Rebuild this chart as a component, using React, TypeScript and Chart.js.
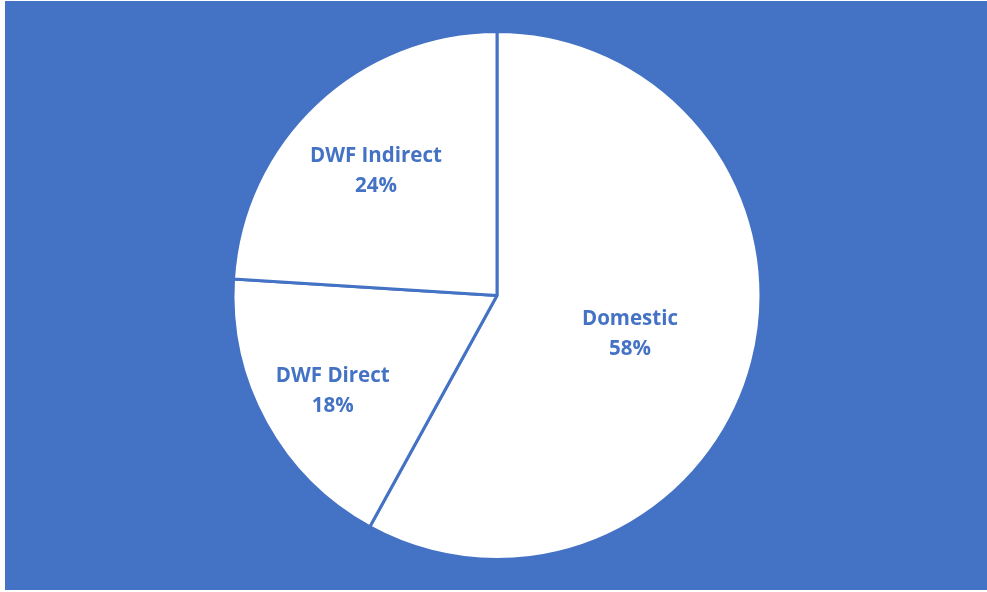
import React, { useEffect, useRef } from "react";
import { Chart, registerables } from "chart.js";

Chart.register(...registerables);

const categories = ["Domestic", "DWF Direct", "DWF Indirect"];
const values = [58, 18, 24];
const labelRadiusFractions = [0.52, 0.71, 0.67];

const BLUE = "#4472C4";

const labelPlugin = {
  id: "pieLabels",
  afterDatasetsDraw(chart: any) {
    const ctx = chart.ctx;
    const meta = chart.getDatasetMeta(0);
    const data = chart.data.datasets[0].data as number[];
    const total = data.reduce((a, b) => a + b, 0);
    ctx.save();
    ctx.fillStyle = BLUE;
    ctx.font = "bold 20.5px 'Open Sans', Lato, sans-serif";
    ctx.textAlign = "center";
    ctx.textBaseline = "middle";
    meta.data.forEach((arc: any, i: number) => {
      const { x, y, startAngle, endAngle, outerRadius } = arc.getProps(
        ["x", "y", "startAngle", "endAngle", "outerRadius"],
        true
      );
      const mid = (startAngle + endAngle) / 2;
      const r = outerRadius * labelRadiusFractions[i];
      const lx = x + Math.cos(mid) * r;
      const ly = y + Math.sin(mid) * r + 5;
      const pct = Math.round((data[i] / total) * 100) + "%";
      ctx.fillText(chart.data.labels[i], lx, ly - 15);
      ctx.fillText(pct, lx, ly + 15);
    });
    ctx.restore();
  },
};

export default function App() {
  const ref = useRef<HTMLCanvasElement>(null);
  useEffect(() => {
    document.body.style.margin = "0";
    const chart = new Chart(ref.current!, {
      type: "pie",
      data: {
        labels: categories,
        datasets: [
          {
            data: values,
            backgroundColor: "#FFFFFF",
            borderColor: BLUE,
            borderWidth: 3,
          },
        ],
      },
      options: {
        animation: false,
        responsive: true,
        maintainAspectRatio: false,
        layout: { padding: { top: 29, bottom: 29, left: 2, right: 0 } },
        plugins: {
          legend: { display: false },
          tooltip: { enabled: false },
        },
      },
      plugins: [labelPlugin],
    });
    return () => chart.destroy();
  }, []);
  return (
    <div
      style={{
        position: "absolute",
        left: 5,
        top: 1,
        width: 982,
        height: 589,
        background: BLUE,
      }}
    >
      <canvas ref={ref} />
    </div>
  );
}
